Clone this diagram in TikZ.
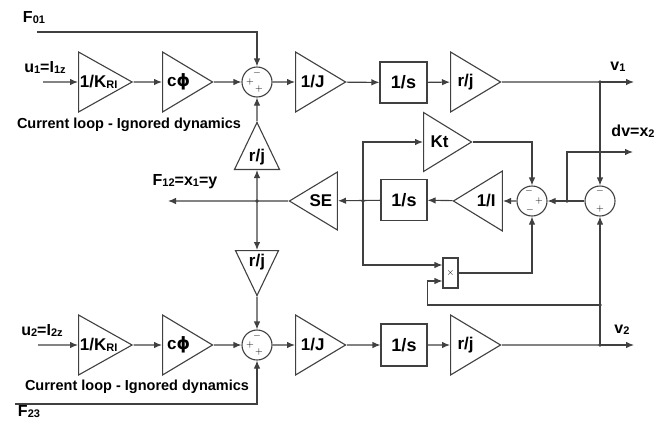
\documentclass[tikz,border=0pt]{standalone}
\usepackage{fontspec}
\setmainfont{Liberation Sans}
\newfontfamily\grfont{DejaVu Sans}
\usetikzlibrary{calc,arrows.meta,shapes.geometric}

\newcommand{\sm}[1]{\raisebox{-1pt}{\fontsize{11}{11}\selectfont #1}}

\begin{document}
\begin{tikzpicture}[x=1pt,y=-1pt,
    line width=1.1pt, color=black!75, text=black,
    >={Latex[length=8pt,width=6.5pt]},
    amp/.style={isosceles triangle, isosceles triangle stretches, draw,
        inner sep=0pt, minimum width=#1, minimum height=50pt,
        font=\fontsize{17}{17}\selectfont\bfseries},
    amp/.default=60pt,
    blk/.style={draw, inner sep=0pt, minimum width=47pt, minimum height=41pt,
        font=\fontsize{18}{18}\selectfont\bfseries},
    sum/.style={circle, draw, inner sep=0pt, minimum size=30pt},
    sgn/.style={inner sep=0pt, font=\fontsize{10}{10}\selectfont},
    lbl/.style={inner sep=0pt, font=\fontsize{16}{16}\selectfont\bfseries},
    note/.style={inner sep=0pt, font=\fontsize{14.5}{14.5}\selectfont\bfseries},
    dot/.style={circle, fill, inner sep=0pt, minimum size=3.6pt}
]
\useasboundingbox (0,0) rectangle (670,421);

% upper channel
\node[amp, anchor=west] (kri1) at (78,82) {1/K\sm{RI}};
\node[amp, anchor=west] (cphi1) at (162,82) {c{\grfont ϕ}};
\node[sum, label={[sgn,yshift=9pt]center:$-$}, label={[sgn,xshift=-7pt]center:$+$},
      label={[sgn,xshift=2pt,yshift=-7pt]center:$+$}] (sumA) at (257,82) {};
\node[amp, anchor=west] (invJ1) at (295,82) {1/J};
\node[blk] (int1) at (403.5,82.5) {1/s};
\node[amp, anchor=west] (gain1) at (450,82) {r/j};

% coupling
\node[amp=45pt, minimum height=47pt, shape border rotate=90, anchor=south] (rjup) at (257,170) {r/j};
\node[amp=43pt, minimum height=45pt, shape border rotate=270, anchor=north] (rjdn) at (257,250) {r/j};
\node[amp=58pt, minimum height=48pt, shape border rotate=180, anchor=east] (se) at (338,201) {SE};
\node[blk, minimum width=46pt] (int2) at (404,200) {1/s};
\node[amp, minimum height=49pt, shape border rotate=180, anchor=east] (invI) at (503,201) {1/I};
\node[amp=59pt, minimum height=48pt, anchor=west] (kt) at (423,142) {Kt};
\node[sum, label={[sgn,xshift=-3pt,yshift=10pt]center:$-$}, label={[sgn,xshift=7pt]center:$+$},
      label={[sgn,xshift=-2pt,yshift=-9pt]center:$-$}] (sumI) at (532,201) {};
\node[sum, label={[sgn,yshift=10pt]center:$-$}, label={[sgn,yshift=-8pt]center:$+$}] (sumV) at (600,201) {};
\node[draw, inner sep=0pt, minimum width=15pt, minimum height=30pt,
      font=\fontsize{10}{10}\selectfont] (mul) at (450.5,273) {$\times$};

% lower channel
\node[amp, anchor=west] (kri2) at (78,345) {1/K\sm{RI}};
\node[amp, anchor=west] (cphi2) at (162,345) {c{\grfont ϕ}};
\node[sum, label={[sgn,yshift=9pt]center:$-$}, label={[sgn,xshift=-7pt]center:$+$},
      label={[sgn,xshift=2pt,yshift=-7pt]center:$+$}] (sumB) at (257,345) {};
\node[amp, anchor=west] (invJ2) at (295,345) {1/J};
\node[blk, minimum width=46pt, minimum height=42pt] (int3) at (404,345) {1/s};
\node[amp, anchor=west] (gain2) at (450,345) {r/j};

% free ends and branch points
\coordinate (f01) at (37,32);
\coordinate (u1) at (43,82);
\coordinate (v1) at (600,82);
\coordinate (v1end) at (634,82);
\coordinate (y) at (257,201);
\coordinate (yend) at (168,201);
\coordinate (split) at (363,201);
\coordinate (dv) at (567,201);
\coordinate (dvend) at (633,152);
\coordinate (fb) at (600,305);
\coordinate (v2) at (600,345);
\coordinate (v2end) at (634,345);
\coordinate (u2) at (38,345);
\coordinate (f23) at (15,404);

% texts
\node[lbl] (F01) at (34,18) {F\sm{01}};
\node[lbl] (U1) at (45,67) {u\sm{1}=I\sm{1z}};
\node[note] (cl1) at (129,125) {Current loop - Ignored dynamics};
\node[lbl] (V1) at (618,67) {v\sm{1}};
\node[lbl] (DV) at (633,131) {dv=x\sm{2}};
\node[lbl] (F12) at (185,182) {F\sm{12}=x\sm{1}=y};
\node[lbl] (U2) at (42,330) {u\sm{2}=I\sm{2z}};
\node[note] (cl2) at (137,387) {Current loop - Ignored dynamics};
\node[lbl] (V2) at (622,330) {v\sm{2}};
\node[lbl] (F23) at (29,412) {F\sm{23}};

% upper path
\draw[->] (f01) -| (sumA);
\draw[->] (u1) -- (kri1);
\draw[->] (kri1) -- (cphi1);
\draw[->] (cphi1) -- (sumA);
\draw[->] (sumA) -- (invJ1);
\draw[->] (invJ1) -- (int1);
\draw[->] (int1) -- (gain1);
\draw (gain1) -- (v1);
\draw[->] (v1) -- (v1end);

% middle loops
\draw[->] (rjup) -- (sumA);
\draw[->] (y) -- (rjup);
\draw[->] (y) -- (rjdn);
\draw[->] (rjdn) -- (sumB);
\draw[->] (se) -- (yend);
\draw[->] (int2) -- (se);
\draw[->] (invI) -- (int2);
\draw[->] (sumI) -- (invI);
\draw[->] (sumV) -- (sumI);
\draw[->] (dv) |- (dvend);
\draw[->] (v1) -- (sumV);
\draw[->] (kt) -| (sumI);
\draw[->] (split) |- (kt);
\draw[->] (split) |- ([yshift=8pt]mul.west);
\draw[->] (fb) -| ([xshift=-15pt,yshift=-8pt]mul.west) -- ([yshift=-8pt]mul.west);
\draw[->] (mul) -| (sumI);
\draw[->] (v2) -- (sumV);

% lower path
\draw[->] (f23) -| (sumB);
\draw[->] (u2) -- (kri2);
\draw[->] (kri2) -- (cphi2);
\draw[->] (cphi2) -- (sumB);
\draw[->] (sumB) -- (invJ2);
\draw[->] (invJ2) -- (int3);
\draw[->] (int3) -- (gain2);
\draw (gain2) -- (v2);
\draw[->] (v2) -- (v2end);

\foreach \p in {v1,y,split,dv,fb,v2} {\node[dot] at (\p) {};};
\end{tikzpicture}
\end{document}
